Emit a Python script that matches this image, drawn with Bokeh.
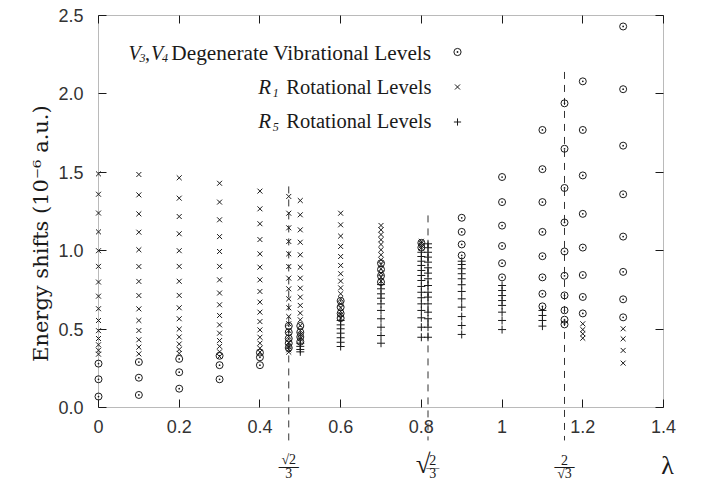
import math
from bokeh.plotting import figure
from bokeh.models import (Label, Legend, LegendItem, LinearAxis, Range1d, BoxAnnotation,
                          FixedTicker, NumeralTickFormatter, CustomJSTickFormatter)
from bokeh.embed import file_html
from bokeh.resources import INLINE

LAM_A = math.sqrt(2) / 3
LAM_B = math.sqrt(2 / 3)
LAM_C = 2 / math.sqrt(3)

# ---- V3, V4 degenerate vibrational levels (circles) ----
vib_lambda = [0.0, 0.1, 0.2, 0.3, 0.4, LAM_A, 0.5, 0.6, 0.7, 0.8, 0.9, 1.0, 1.1, LAM_C, 1.2, 1.3]
vib_levels = [
    [0.28, 0.18, 0.07],
    [0.29, 0.19, 0.08],
    [0.31, 0.225, 0.12],
    [0.33, 0.27, 0.18],
    [0.35, 0.32, 0.27],
    [0.52, 0.48, 0.44, 0.41, 0.38],
    [0.52, 0.48, 0.45, 0.42],
    [0.68, 0.64, 0.60, 0.57],
    [0.92, 0.88, 0.84, 0.80],
    [1.05, 1.02],
    [1.21, 1.12, 1.04, 0.97],
    [1.47, 1.31, 1.16, 1.03, 0.92, 0.83],
    [1.77, 1.52, 1.31, 1.12, 0.965, 0.83, 0.725, 0.645],
    [1.94, 1.65, 1.40, 1.18, 0.995, 0.84, 0.715, 0.62, 0.56, 0.53],
    [2.08, 1.77, 1.48, 1.235, 1.02, 0.845, 0.705, 0.60],
    [2.43, 2.03, 1.67, 1.36, 1.09, 0.865, 0.69, 0.575],
]

# ---- R1 rotational levels (crosses) ----
r1_lambda = [0.0, 0.1, 0.2, 0.3, 0.4, LAM_A, 0.5, 0.6, 0.7, 0.8, 1.2, 1.3]
r1_levels = [
    [1.49, 1.36, 1.24, 1.12, 1.00, 0.90, 0.80, 0.71, 0.63, 0.555, 0.49, 0.44, 0.40, 0.365, 0.34],
    [1.486, 1.356, 1.235, 1.118, 1.006, 0.899, 0.804, 0.714, 0.629, 0.555, 0.491, 0.432, 0.385, 0.342],
    [1.465, 1.335, 1.218, 1.108, 1.00, 0.90, 0.805, 0.715, 0.636, 0.566, 0.50, 0.45, 0.405, 0.37, 0.345],
    [1.43, 1.31, 1.197, 1.09, 0.995, 0.90, 0.814, 0.73, 0.655, 0.587, 0.527, 0.474, 0.427, 0.39, 0.355, 0.325],
    [1.38, 1.267, 1.172, 1.071, 0.98, 0.895, 0.814, 0.74, 0.672, 0.608, 0.548, 0.495, 0.448, 0.41, 0.378, 0.353],
    [1.346, 1.239, 1.146, 1.059, 0.98, 0.899, 0.825, 0.757, 0.693, 0.636, 0.58, 0.534, 0.491, 0.453, 0.416, 0.389, 0.368, 0.353],
    [1.32, 1.229, 1.133, 1.054, 0.974, 0.895, 0.825, 0.761, 0.704, 0.651, 0.602, 0.559, 0.523, 0.491, 0.464, 0.438],
    [1.239, 1.165, 1.093, 1.027, 0.963, 0.906, 0.853, 0.806, 0.763, 0.725, 0.693, 0.661, 0.636, 0.612, 0.591, 0.57],
    [1.161, 1.133, 1.103, 1.07, 1.04, 1.006, 0.974, 0.942, 0.912, 0.885, 0.857, 0.831, 0.806],
    [1.06, 1.048, 1.033, 1.019],
    [0.534, 0.497, 0.47, 0.442],
    [0.502, 0.438, 0.364, 0.283],
]

# ---- R5 rotational levels (plus signs) ----
r5_lambda = [0.5, 0.6, 0.7, 0.8, LAM_B, 0.9, 1.0, 1.1]
r5_levels = [
    [0.41, 0.39, 0.37, 0.355],
    [0.555, 0.527, 0.502, 0.474, 0.445, 0.416, 0.389],
    [0.784, 0.757, 0.725, 0.697, 0.661, 0.619, 0.566, 0.512, 0.459, 0.41],
    [0.99, 0.963, 0.933, 0.906, 0.874, 0.842, 0.81, 0.772, 0.735, 0.70, 0.661, 0.619, 0.572, 0.512, 0.448],
    [1.044, 1.019, 0.99, 0.959, 0.927, 0.891, 0.857, 0.821, 0.778, 0.735, 0.704, 0.661, 0.608, 0.566, 0.512, 0.448],
    [0.933, 0.912, 0.885, 0.853, 0.821, 0.783, 0.74, 0.693, 0.64, 0.58, 0.523, 0.466],
    [0.778, 0.746, 0.714, 0.682, 0.651, 0.608, 0.555, 0.497],
    [0.619, 0.587, 0.555, 0.519],
]

# ---- special lambda values (dashed reference lines) ----
dash_lambda = [LAM_A, LAM_B, LAM_C]
dash_top = [1.41, 1.225, 2.14]
dash_bottom = [-0.21, -0.21, -0.21]

X_MIN, X_MAX = 0.0, 1.4
Y_MIN, Y_MAX = 0.0, 2.5
x_ticks = [0, 0.2, 0.4, 0.6, 0.8, 1.0, 1.2, 1.4]
y_ticks = [0, 0.5, 1.0, 1.5, 2.0, 2.5]


def flatten(lams, levels):
    xs, ys = [], []
    for lam, lv in zip(lams, levels):
        for v in lv:
            xs.append(lam)
            ys.append(v)
    return xs, ys


INK = "#1a1a1a"
SERIF = "Liberation Serif"
SANS = "Liberation Sans"

# The drawing frame covers the whole canvas; the plot box (0..1.4 x 0..2.5)
# sits inside it so that texts and dashes below the axis can be drawn.
W, H = 704, 482
BOX_L, BOX_B = 98, 407                 # canvas px of (X_MIN, Y_MIN)
PX_X = 565 / (X_MAX - X_MIN)
PX_Y = 392 / (Y_MAX - Y_MIN)
x_start = X_MIN - BOX_L / PX_X
x_end = X_MIN + (W - BOX_L) / PX_X
y_start = Y_MIN - (H - BOX_B) / PX_Y
y_end = Y_MIN + BOX_B / PX_Y

p = figure(width=W, height=H, x_range=Range1d(x_start, x_end), y_range=Range1d(y_start, y_end),
           output_backend="svg", toolbar_location=None,
           x_axis_location=None, y_axis_location=None, min_border=0)
p.grid.visible = False
p.outline_line_color = None
p.background_fill_color = "white"
p.border_fill_color = "white"

p.add_layout(BoxAnnotation(left=X_MIN, right=X_MAX, bottom=Y_MIN, top=Y_MAX,
                           fill_alpha=0, line_color=INK, line_width=1, level="underlay"))

blank = CustomJSTickFormatter(code="return ''")


def axis(loc, ticks, fmt, standoff=0, font_size="18px"):
    return LinearAxis(fixed_location=loc, ticker=FixedTicker(ticks=ticks), formatter=fmt,
                      major_tick_in=8, major_tick_out=0, minor_tick_line_color=None,
                      axis_line_color=None, major_tick_line_color=INK,
                      major_label_standoff=standoff, major_label_text_font=SANS,
                      major_label_text_font_size=font_size, major_label_text_color="#333333")


p.add_layout(axis(Y_MIN, x_ticks, NumeralTickFormatter(format="0.[0]"), 12), "below")
p.add_layout(axis(X_MIN, y_ticks, NumeralTickFormatter(format="0.0"), 15), "left")
p.add_layout(axis(Y_MAX, x_ticks, blank), "above")
p.add_layout(axis(X_MAX, y_ticks, blank), "right")

# dashed reference lines
p.segment(x0=dash_lambda, y0=dash_top, x1=dash_lambda, y1=dash_bottom,
          line_color="#333333", line_width=1, line_dash="7 6")

# data
vx, vy = flatten(vib_lambda, vib_levels)
r1x, r1y = flatten(r1_lambda, r1_levels)
r5x, r5y = flatten(r5_lambda, r5_levels)

r_v = p.scatter(vx, vy, marker="circle_dot", size=7, fill_color=None,
                line_color=INK, line_width=1)
r_r1 = p.scatter(r1x, r1y, marker="x", size=7, line_color=INK, line_width=1)
r_r5 = p.scatter(r5x, r5y, marker="cross", size=8, line_color=INK, line_width=1)

legend = Legend(items=[LegendItem(label=" ", renderers=[r_v]),
                       LegendItem(label=" ", renderers=[r_r1]),
                       LegendItem(label=" ", renderers=[r_r5])],
                location=(448, 343), glyph_width=18, glyph_height=35, spacing=0,
                padding=0, margin=0, label_width=0, label_height=10, label_standoff=0,
                label_text_font_size="1px", border_line_color=None,
                background_fill_alpha=0)
p.add_layout(legend, "center")


def txt(x, y, text, size, align="center", style="normal", font=SERIF, angle=0.0):
    p.add_layout(Label(x=x, y=y, text=text, text_font=font, text_font_style=style,
                       text_font_size=size, text_color=INK, angle=angle,
                       text_align=align, text_baseline="middle"))


# y axis title
txt(-0.1437, 1.109, "Energy shifts (10\u207b\u2076 a.u.)", "21px", font="DejaVu Serif",
    angle=math.pi / 2)

SUB = "12px"
txt(0.0743, 2.264, "V", "20px", "left", "italic")
txt(0.1016, 2.226, "3", SUB, "left", "italic")
txt(0.1150, 2.264, ",", "20px", "left")
txt(0.1300, 2.264, "V", "20px", "left", "italic")
txt(0.1575, 2.226, "4", SUB, "left", "italic")
txt(0.825, 2.264, "Degenerate Vibrational Levels", "21.3px", "right")
txt(0.396, 2.041, "R", "21px", "left", "italic")
txt(0.432, 2.003, "1", SUB, "left", "italic")
txt(0.825, 2.041, "Rotational Levels", "20.5px", "right")
txt(0.396, 1.824, "R", "21px", "left", "italic")
txt(0.432, 1.786, "5", SUB, "left", "italic")
txt(0.825, 1.824, "Rotational Levels", "20.5px", "right")

# labels of the special lambda values below the axis
FR = "14px"
txt(LAM_A, -0.334, "\u221a2", FR)
txt(LAM_A, -0.376, "\u2014", "20px")
txt(LAM_A, -0.420, "3", FR)

txt(LAM_B - 0.012, -0.36, "\u221a", "27px")
txt(LAM_B + 0.012, -0.334, "2", FR)
txt(LAM_B + 0.012, -0.376, "\u2014", "13px")
txt(LAM_B + 0.012, -0.420, "3", FR)

txt(LAM_C, -0.334, "2", FR)
txt(LAM_C, -0.376, "\u2014", "20px")
txt(LAM_C, -0.420, "\u221a3", FR)

txt(1.41, -0.37, "\u03bb", "26px")

open("out.html", "w").write(file_html(p, INLINE))
